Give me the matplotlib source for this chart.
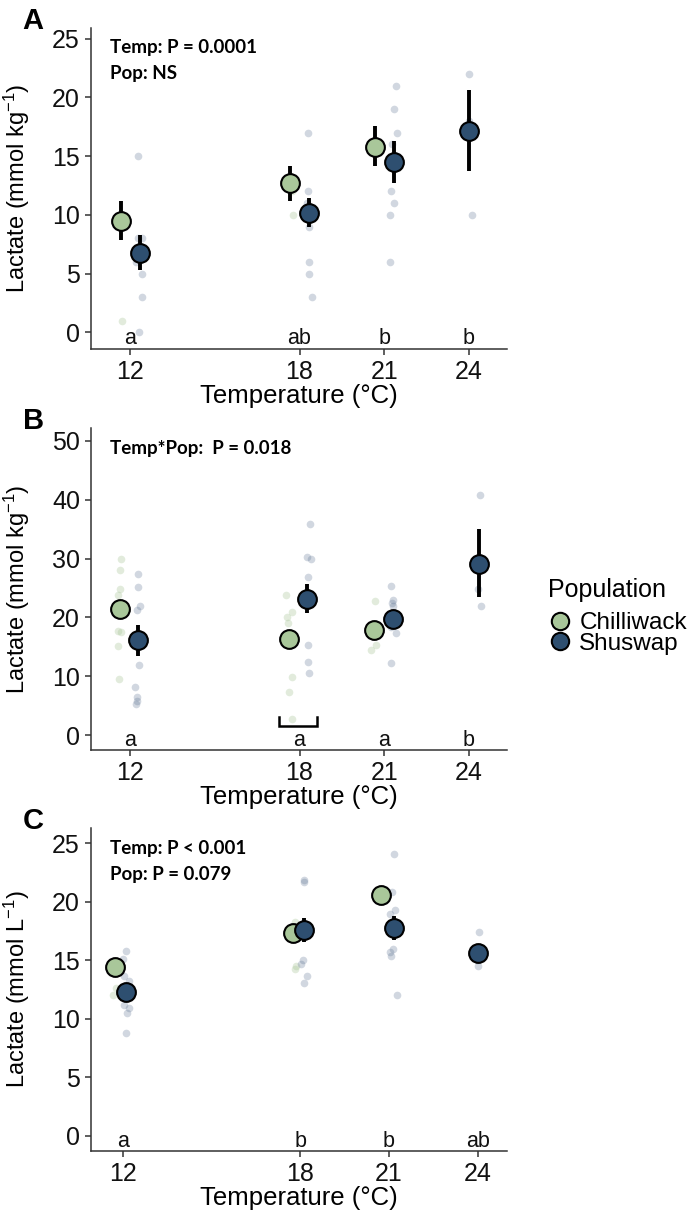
import numpy as np
import matplotlib
matplotlib.use('Agg')
import matplotlib.pyplot as plt
from matplotlib.lines import Line2D

FONT = 'Liberation Sans'
plt.rcParams.update({
    'font.family': FONT, 'font.size': 16, 'mathtext.default': 'regular',
    'axes.linewidth': 1.1, 'axes.edgecolor': '#333333',
    'axes.spines.top': False, 'axes.spines.right': False,
    'xtick.labelsize': 18, 'ytick.labelsize': 18,
    'xtick.major.size': 4.5, 'ytick.major.size': 4.5,
    'xtick.major.width': 1.1, 'ytick.major.width': 1.1,
    'xtick.color': '#333333', 'ytick.color': '#333333',
    'xtick.labelcolor': '#111111', 'ytick.labelcolor': '#111111',
})

GREEN = '#a9c79a'
BLUE = '#2e4f70'
RAW_GREEN = '#9fc08e'
RAW_BLUE = '#5a7090'

temps = [12, 18, 21, 24]
nan = np.nan

# --- Panel A: lactate (mmol kg-1) ---
a_chil_mean = [9.5, 12.7, 15.8, nan]
a_chil_lo = [7.9, 11.2, 14.2, nan]
a_chil_hi = [11.2, 14.2, 17.6, nan]
a_shus_mean = [6.8, 10.2, 14.5, 17.1]
a_shus_lo = [5.3, 9.0, 12.7, 13.7]
a_shus_hi = [8.3, 11.4, 16.3, 20.6]
a_chil_raw = [[1.0], [10.0, 12.0], [], []]
a_shus_raw = [[15.0, 8.0, 8.0, 6.0, 5.0, 3.0, 0.0],
              [17.0, 12.0, 11.0, 9.0, 6.0, 5.0, 3.0],
              [21.0, 19.0, 17.0, 16.0, 12.0, 11.0, 10.0, 6.0],
              [22.0, 18.0, 10.0]]
a_letters = ['a', 'ab', 'b', 'b']
a_stats = ['Temp: P = 0.0001', 'Pop: NS']

# --- Panel B: lactate (mmol kg-1) ---
b_chil_mean = [21.4, 16.3, 17.9, nan]
b_chil_lo = [20.4, 15.3, 16.9, nan]
b_chil_hi = [22.4, 17.3, 18.9, nan]
b_shus_mean = [16.2, 23.1, 19.7, 29.1]
b_shus_lo = [13.4, 20.7, 18.7, 23.4]
b_shus_hi = [18.7, 25.7, 20.9, 35.0]
b_chil_raw = [[29.9, 28.1, 24.8, 23.8, 21.5, 17.7, 17.5, 15.1, 9.5],
              [23.8, 21.0, 20.0, 19.0, 9.8, 7.4, 2.8],
              [22.8, 15.3, 14.4],
              []]
b_shus_raw = [[27.3, 25.1, 22.0, 21.3, 11.9, 8.2, 6.4, 5.8, 5.3],
              [35.8, 30.2, 29.9, 26.9, 15.3, 12.4, 10.6],
              [25.4, 23.0, 22.5, 22.0, 18.4, 17.4, 12.2],
              [40.8, 24.8, 22.0]]
b_letters = ['a', 'a', 'a', 'b']
b_stats = ['Temp*Pop:  P = 0.018']

# --- Panel C: lactate (mmol L-1) ---
c_chil_mean = [14.4, 17.3, 20.6, nan]
c_chil_lo = [13.9, 16.8, 20.1, nan]
c_chil_hi = [14.9, 17.8, 21.1, nan]
c_shus_mean = [12.3, 17.6, 17.75, 15.6]
c_shus_lo = [11.7, 16.6, 16.7, 15.0]
c_shus_hi = [12.9, 18.6, 18.8, 16.2]
c_chil_raw = [[12.6, 12.0], [18.3, 14.5, 14.3], [], []]
c_shus_raw = [[15.8, 15.1, 13.7, 13.2, 11.8, 11.2, 10.9, 10.5, 8.8],
              [21.9, 21.7, 15.0, 14.7, 13.7, 13.1],
              [24.1, 20.8, 19.3, 19.0, 16.0, 15.7, 15.4, 12.0],
              [17.4, 15.0, 14.5]]
c_letters = ['a', 'b', 'b', 'ab']
c_stats = ['Temp: P < 0.001', 'Pop: P = 0.079']

rng = np.random.default_rng(7)


def panel(ax, chil, shus, chil_raw, shus_raw, dodge, letters, stats,
          ylim, yticks, ylabel, xlim, tag):
    for (mean, lo, hi), raw, off, fc, rc, ra in [
            (chil, chil_raw, dodge[0], GREEN, RAW_GREEN, 0.30),
            (shus, shus_raw, dodge[1], BLUE, RAW_BLUE, 0.28)]:
        for t, vals, o in zip(temps, raw, off):
            if not vals:
                continue
            xj = t + o + rng.uniform(-0.12, 0.12, len(vals))
            ax.plot(xj, vals, 'o', ms=5.5, mfc=rc, mec='none', alpha=ra, zorder=1)
        xs = np.array(temps) + np.array(off)
        ax.vlines(xs, lo, hi, color='black', lw=2.8, zorder=2)
        ax.plot(xs, mean, 'o', ms=13.5, mfc=fc, mec='black', mew=1.5, zorder=3)
    for t, s in zip(temps, letters):
        ax.annotate(s, (t, 0), xytext=(0, -4), textcoords='offset points',
                    ha='center', va='center', fontsize=15.5, color='#111111')
    for i, s in enumerate(stats):
        ax.text(0.045, 0.938 - i * 0.081, s, transform=ax.transAxes, fontsize=13.5,
                fontweight='bold', family='Lato', ha='left', va='center')
    ax.set_xlim(*xlim); ax.set_ylim(*ylim)
    ax.set_xticks(temps); ax.set_yticks(yticks)
    ax.set_ylabel(ylabel, fontsize=17)
    ax.yaxis.set_label_coords(-0.142, 0.5)
    ax.set_xlabel('Temperature (°C)', fontsize=18.5, va='center')
    ax.xaxis.set_label_coords(0.5, -0.146)
    ax.text(-0.139, 1.022, tag, transform=ax.transAxes, fontsize=21,
            fontweight='bold', ha='center', va='center')


fig = plt.figure(figsize=(6.97, 12.15), dpi=100)
axA = fig.add_axes([0.1306, 0.7128, 0.597, 0.2642])
axB = fig.add_axes([0.1306, 0.3827, 0.597, 0.2650])
axC = fig.add_axes([0.1306, 0.0527, 0.597, 0.2658])

kg = r'Lactate (mmol kg$^{-1}$)'
panel(axA, (a_chil_mean, a_chil_lo, a_chil_hi), (a_shus_mean, a_shus_lo, a_shus_hi),
      a_chil_raw, a_shus_raw, ([-0.32] * 4, [0.34, 0.34, 0.33, 0.0]),
      a_letters, a_stats, (-1.4, 25.9), [0, 5, 10, 15, 20, 25], kg,
      (10.62, 25.35), 'A')
panel(axB, (b_chil_mean, b_chil_lo, b_chil_hi), (b_shus_mean, b_shus_lo, b_shus_hi),
      b_chil_raw, b_shus_raw, ([-0.36] * 4, [0.28, 0.28, 0.32, 0.35]),
      b_letters, b_stats, (-2.55, 52.2), [0, 10, 20, 30, 40, 50], kg,
      (10.62, 25.35), 'B')
panel(axC, (c_chil_mean, c_chil_lo, c_chil_hi), (c_shus_mean, c_shus_lo, c_shus_hi),
      c_chil_raw, c_shus_raw, ([-0.26] * 4, [0.1, 0.14, 0.16, 0.0]),
      c_letters, c_stats, (-1.28, 26.3), [0, 5, 10, 15, 20, 25],
      r'Lactate (mmol L$^{-1}$)', (10.92, 25.0), 'C')

# bracket under the 18 °C group in panel B
axB.plot([17.28, 17.28, 18.62, 18.62], [3.0, 1.5, 1.5, 3.0], color='black', lw=1.8,
         solid_joinstyle='miter', zorder=2)

handles = [Line2D([], [], ls='none', marker='o', ms=12.5, mfc=GREEN, mec='black', mew=1.5),
           Line2D([], [], ls='none', marker='o', ms=12.5, mfc=BLUE, mec='black', mew=1.5)]
fig.legend(handles, ['Chilliwack', 'Shuswap'], title='Population', loc='upper left',
           bbox_to_anchor=(0.772, 0.532), frameon=False, fontsize=17.5, title_fontsize=18,
           handletextpad=0.3, labelspacing=-0.05, borderaxespad=0, handlelength=1.0,
           alignment='left')
fig.legends[0]._legend_box.sep = 7

plt.savefig('out.png', dpi=100, facecolor='white')
